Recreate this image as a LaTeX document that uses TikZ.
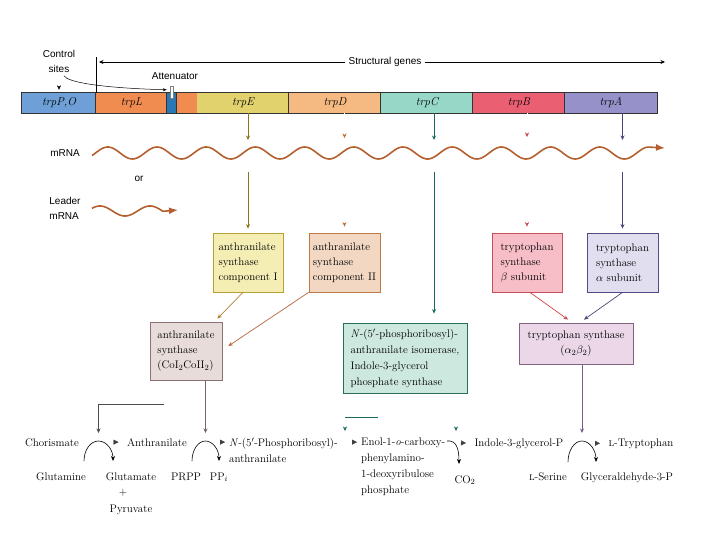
\documentclass[tikz,border=0pt]{standalone}
\usepackage{fontspec}
\setsansfont{Liberation Sans}
\usepackage{tikz}
\usetikzlibrary{arrows.meta}

\definecolor{mrnaC}{RGB}{180,95,45}
\definecolor{gPO}{RGB}{110,160,215}
\definecolor{gL}{RGB}{240,140,80}
\definecolor{gAtt}{RGB}{40,120,180}
\definecolor{gE}{RGB}{225,210,110}
\definecolor{gD}{RGB}{245,185,130}
\definecolor{gC}{RGB}{150,215,200}
\definecolor{gB}{RGB}{235,95,115}
\definecolor{gA}{RGB}{150,145,200}
\definecolor{arE}{RGB}{130,120,30}
\definecolor{arD}{RGB}{190,110,50}
\definecolor{arC}{RGB}{25,105,95}
\definecolor{arB}{RGB}{200,70,80}
\definecolor{arA}{RGB}{70,70,120}
\definecolor{bxE}{RGB}{245,238,180}
\definecolor{bxEd}{RGB}{185,160,50}
\definecolor{bxD}{RGB}{242,215,195}
\definecolor{bxDd}{RGB}{190,120,70}
\definecolor{bxB}{RGB}{248,190,200}
\definecolor{bxBd}{RGB}{200,80,90}
\definecolor{bxA}{RGB}{225,222,240}
\definecolor{bxAd}{RGB}{80,75,130}
\definecolor{bxS}{RGB}{232,220,218}
\definecolor{bxSd}{RGB}{140,115,115}
\definecolor{bxN}{RGB}{205,232,222}
\definecolor{bxNd}{RGB}{40,110,90}
\definecolor{bxT}{RGB}{235,215,232}
\definecolor{bxTd}{RGB}{130,100,130}
\definecolor{diagE}{RGB}{175,130,50}
\definecolor{diagD}{RGB}{185,100,60}
\definecolor{diagB}{RGB}{210,70,70}
\definecolor{downS}{RGB}{120,100,100}
\definecolor{downT}{RGB}{120,90,140}

\begin{document}
\begin{tikzpicture}[x=1pt, y=-1pt,
  lab/.style={font=\sffamily\fontsize{10}{15}\selectfont},
  gene/.style={inner sep=0, minimum height=20pt, font=\fontsize{11.5}{12}\selectfont\itshape},
  enz/.style={draw, line width=0.8pt, align=left, inner sep=0, minimum height=59pt,
    font=\fontsize{11}{15}\selectfont},
  cmp/.style={font=\fontsize{11}{16}\selectfont},
  tip/.style={-{Stealth[length=4.5pt,width=4pt]}},
  ghost/.style={draw=white, shorten >=2pt, -{Stealth[length=4.5pt,width=4pt,color=#1]}},
  ghosttri/.style={draw=white, shorten >=5pt, -{Triangle[length=5pt,width=5pt,color=black!75]}},
  rxn/.style={line width=0.6pt, -{Stealth[length=5pt,width=4pt]}},
  mrna/.style={draw=mrnaC, line width=1.6pt, -{Latex[length=9pt,width=7pt,color=mrnaC]}}]
  \useasboundingbox (0,0) rectangle (720,540);

  % gene bar
  \node[gene, fill=gPO, minimum width=74pt] (po) at (59,103) {trpP,O};
  \node[gene, fill=gL, minimum width=71pt] (l) at (131.5,103) {trpL};
  \node[gene, fill=gAtt, minimum width=10pt] (att) at (172,103) {};
  \node[gene, fill=gL, minimum width=20pt] (sp) at (187,103) {};
  \node[gene, fill=gE, minimum width=92pt] (e) at (243,103) {trpE};
  \node[gene, fill=gD, minimum width=92pt] (d) at (335,103) {trpD};
  \node[gene, fill=gC, minimum width=92pt] (c) at (427,103) {trpC};
  \node[gene, fill=gB, minimum width=92pt] (b) at (519,103) {trpB};
  \node[gene, fill=gA, minimum width=92pt] (a) at (611,103) {trpA};
  \draw[line width=0.8pt, black!80] (po.north west) rectangle (a.south east);
  \foreach \g in {l,att,sp,d,c,b,a}
    \draw[line width=0.7pt, black!80] (\g.north west) -- (\g.south west);
  \draw[black!50, fill=white, line width=0.4pt] (170.5,86) rectangle (173.5,98);

  % labels above the bar
  \node[lab, align=center] (ctrl) at (59,61) {Control\\sites};
  \node[lab] (attn) at (175,76) {Attenuator};
  \node[lab, inner xsep=3pt] (sg) at (385,62) {Structural genes};
  \coordinate (sgl) at (99,62);
  \coordinate (sgr) at (665,62);
  \draw[line width=0.6pt, tip] (sg.west) -- (sgl);
  \draw[line width=0.6pt, tip] (sg.east) -- (sgr);
  \draw[line width=0.6pt] (l.north west) -- ++(0,-36);
  \draw[ghost=black, shorten >=3pt] (ctrl.south) -- (ctrl.south |- po.north);
  \draw[line width=0.5pt, -{Stealth[length=4pt,width=3pt]}] ([xshift=5pt]ctrl.south)
    .. controls +(3,6) and +(-70,-2) .. ([yshift=3pt]att.north west);

  % mRNA
  \node[lab] (mlab) at (65,153) {mRNA};
  \node[lab] (orlab) at (139,179) {or};
  \node[lab, align=left] (llab) at (65,208) {Leader\\mRNA};
  \draw[mrna] plot[domain=92:648, samples=300, smooth] (\x, {153-6*cos(7.3171*(\x-157))})
    -- (665,148);
  \draw[mrna] plot[domain=92:163, samples=80, smooth] (\x, {211+5*cos(7.2*(\x-125))})
    -- (178,210);

  % enzymes
  \node[enz, fill=bxE, draw=bxEd, minimum width=70pt] (boxe) at (248,262.5) {anthranilate\\synthase\\component I};
  \node[enz, fill=bxD, draw=bxDd, minimum width=71pt] (boxd) at (344.5,262.5) {anthranilate\\synthase\\component II};
  \node[enz, fill=bxB, draw=bxBd, minimum width=70pt] (boxb) at (527,262.5) {tryptophan\\synthase\\$\beta$ subunit};
  \node[enz, fill=bxA, draw=bxAd, minimum width=71pt] (boxa) at (622.5,262.5) {tryptophan\\synthase\\$\alpha$ subunit};
  \node[enz, fill=bxS, draw=bxSd, minimum width=72pt, minimum height=58pt] (as) at (186,351)
    {anthranilate\\synthase\\(CoI$_2$CoII$_2$)};
  \node[enz, fill=bxN, draw=bxNd, minimum width=124pt, minimum height=70pt, font=\fontsize{11}{16}\selectfont] (npr) at (405,358)
    {\textit{N}-(5$'$-phosphoribosyl)-\\anthranilate isomerase,\\Indole-3-glycerol\\phosphate synthase};
  \node[enz, align=center, fill=bxT, draw=bxTd, minimum width=114pt, minimum height=41pt] (ts) at (576,343.5)
    {tryptophan synthase\\($\alpha_2\beta_2$)};

  % genes -> mRNA -> polypeptides
  \coordinate (mtop) at (0,140);
  \coordinate (mbot) at (0,172);
  \coordinate (cx) at (434,0);
  \draw[arE, line width=0.8pt, tip] (e.south -| boxe) -- (mtop -| boxe);
  \draw[arE, line width=0.8pt, tip, shorten >=4pt] (mbot -| boxe) -- (boxe.north);
  \draw[ghost=arD] (d.south -| boxd) -- (mtop -| boxd);
  \draw[ghost=arD, shorten >=6pt] (mbot -| boxd) -- (boxd.north);
  \draw[arC, line width=0.8pt, tip] (c.south -| cx) -- (mtop -| cx);
  \draw[arC, line width=0.8pt, tip, shorten >=9pt] (mbot -| cx) -- (npr.north -| cx);
  \draw[ghost=arB, shorten >=3pt] (b.south -| boxb) -- (mtop -| boxb);
  \draw[ghost=arB, shorten >=6pt] (mbot -| boxb) -- (boxb.north);
  \draw[arA, line width=0.8pt, tip] (a.south -| boxa) -- (mtop -| boxa);
  \draw[arA, line width=0.8pt, tip, shorten >=4pt] (mbot -| boxa) -- (boxa.north);

  % subunits -> enzymes
  \draw[diagE, line width=0.7pt, tip] ([xshift=-5pt]boxe.south) -- ([xshift=-5pt,yshift=3pt]as.north east);
  \draw[diagD, line width=0.7pt, tip] (boxd.south west) -- ([xshift=6pt,yshift=5pt]as.east);
  \draw[diagB, line width=0.7pt, tip] ([xshift=3pt]boxb.south) -- ([xshift=-8pt,yshift=3pt]ts.north);
  \draw[arA, line width=0.7pt, tip] (boxa.south) -- ([xshift=8pt,yshift=3pt]ts.north);

  % pathway
  \node[cmp, anchor=base] (chor) at (52,446) {Chorismate};
  \node[cmp, anchor=base] (gln) at (61,480) {Glutamine};
  \node[cmp, anchor=base] (anth) at (157,446) {Anthranilate};
  \node[cmp, anchor=base] (glu) at (131,480) {Glutamate};
  \node[cmp, anchor=base] (plus) at (123,495) {+};
  \node[cmp, anchor=base] (pyr) at (131,512) {Pyruvate};
  \node[cmp, anchor=base] (prpp) at (186,480) {PRPP};
  \node[cmp, anchor=base] (ppi) at (219,480) {PP$_i$};
  \node[cmp, anchor=north west, align=left, inner sep=0] (pra) at (229,438)
    {\textit{N}-(5$'$-Phosphoribosyl)-\\anthranilate};
  \node[cmp, anchor=north west, align=left, inner sep=0] (enol) at (361,438)
    {Enol-1-\textit{o}-carboxy-\\phenylamino-\\1-deoxyribulose\\phosphate};
  \node[cmp, anchor=base] (co2) at (465,483) {CO$_2$};
  \node[cmp, anchor=base west] (igp) at (471,446) {Indole-3-glycerol-P};
  \node[cmp, anchor=base] (ser) at (548,480) {\textsc{l}-Serine};
  \node[cmp, anchor=base] (gap) at (627,480) {Glyceraldehyde-3-P};
  \node[cmp, anchor=base west] (trp) at (605,446) {\textsc{l}-Tryptophan};

  \draw[ghosttri] (chor.east) -- (anth.west);
  \draw[ghosttri, shorten >=4pt] (anth.east) -- (pra.west |- anth.east);
  \draw[ghosttri, shorten >=4pt] (pra.east |- anth.east) -- (enol.west |- anth.east);
  \draw[ghosttri] (enol.east |- anth.east) -- (igp.west);
  \draw[ghosttri] (igp.east) -- (trp.west);

  \coordinate (r1) at (98.5,441);
  \coordinate (r2) at (205.5,441);
  \coordinate (r4) at (447,441);
  \coordinate (r5) at (582,441);
  \draw[rxn] (r1) ++(-14.5,20) arc[start angle=180, end angle=360, x radius=14.5, y radius=20];
  \draw[rxn] (r2) ++(-13.5,20) arc[start angle=180, end angle=360, x radius=13.5, y radius=20];
  \draw[rxn] (r4) .. controls (456,440) and (459,448) .. (459,464);
  \draw[rxn] (r5) ++(-14,21) arc[start angle=180, end angle=360, x radius=14, y radius=21];

  \coordinate (stub) at (164,404);
  \draw[black!70, line width=0.7pt, tip, shorten >=8pt] (stub) -| (r1);
  \draw[downS, line width=0.8pt, tip, shorten >=8pt] (as.south -| r2) -- (r2);
  \draw[downT, line width=0.8pt, tip, shorten >=8pt] (ts.south -| r5) -- (r5);

  \coordinate (tl) at (345,417);
  \coordinate (tr) at (378,417);
  \coordinate (tq) at (456,431);
  \draw[ghost=arC, shorten >=0pt] (tl) -- ++(0,14);
  \draw[ghost=arC, shorten >=0pt] (tr) -| (tq);
  \draw[arC, line width=0.7pt] (tl) -- (tr);
\end{tikzpicture}
\end{document}
